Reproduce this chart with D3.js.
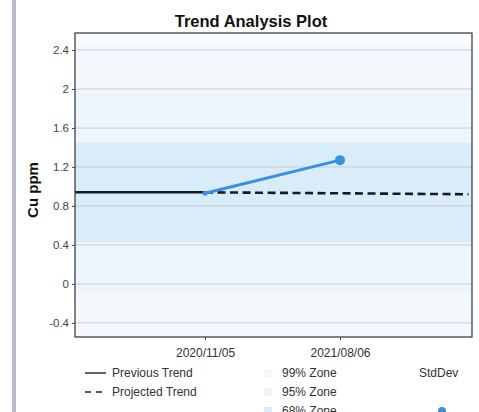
<!DOCTYPE html>
<html><head><meta charset="utf-8">
<script src="https://cdn.jsdelivr.net/npm/d3@7"></script>
<style>html,body{margin:0;padding:0;background:#fff;}svg{display:block;font-family:"Liberation Sans",Arial,sans-serif;}</style>
</head><body><svg id="c" width="479" height="412"></svg>
<script>
const sampleDates = ["2020-11-05", "2021-08-06"];
const sampleValues = [0.93, 1.27];
const previousDates = ["2020-02-15", "2020-11-05"];
const previousValues = [0.94, 0.94];
const projectedDates = ["2020-11-05", "2022-04-24"];
const projectedValues = [0.94, 0.92];
const zoneMean = 0.94;
const zoneNames = ["99% Zone", "95% Zone", "68% Zone"];
const zoneHalfWidths = [1.53, 1.02, 0.51];
const yTicks = [-0.4, 0, 0.4, 0.8, 1.2, 1.6, 2, 2.4];
const xDomain = ["2020-02-15", "2022-05-01"];
const yDomain = [-0.545, 2.575];

const parse = d3.timeParse("%Y-%m-%d");
const fmt = d3.timeFormat("%Y/%m/%d");
const svg = d3.select("#c");
const m = {l: 75, t: 33, r: 472, b: 337};

svg.append("rect").attr("x", 12).attr("y", 0).attr("width", 4).attr("height", 412).attr("fill", "#b9bdc7");

const x = d3.scaleTime().domain(xDomain.map(parse)).range([m.l, m.r]);
const y = d3.scaleLinear().domain(yDomain).range([m.b, m.t]);

svg.append("defs").append("clipPath").attr("id", "clip")
  .append("rect").attr("x", m.l).attr("y", m.t).attr("width", m.r - m.l).attr("height", m.b - m.t);

const plot = svg.append("g").attr("clip-path", "url(#clip)");
plot.append("rect").attr("x", m.l).attr("y", m.t).attr("width", m.r - m.l).attr("height", m.b - m.t).attr("fill", "#f9fbfe");
const zoneColors = ["#f3f8fd", "#edf5fd", "#d9ecfa"];
zoneHalfWidths.forEach((hw, i) => {
  plot.append("rect").attr("x", m.l).attr("width", m.r - m.l)
    .attr("y", y(zoneMean + hw)).attr("height", y(zoneMean - hw) - y(zoneMean + hw))
    .attr("fill", zoneColors[i]);
});

plot.selectAll("line.grid").data(yTicks).join("line").attr("class", "grid")
  .attr("x1", m.l).attr("x2", m.r).attr("y1", d => y(d)).attr("y2", d => y(d))
  .attr("stroke", "#c9ccd2").attr("stroke-width", 1);

const line = d3.line().x(d => x(d[0])).y(d => y(d[1]));
const prev = previousDates.map((d, i) => [parse(d), previousValues[i]]);
const proj = projectedDates.map((d, i) => [parse(d), projectedValues[i]]);
const samp = sampleDates.map((d, i) => [parse(d), sampleValues[i]]);

plot.append("path").attr("d", line(prev)).attr("fill", "none").attr("stroke", "#1a1a1a").attr("stroke-width", 2.6);
plot.append("path").attr("d", line(proj)).attr("fill", "none").attr("stroke", "#1a1a1a").attr("stroke-width", 2.6).attr("stroke-dasharray", "8,4.5");
plot.append("path").attr("d", line(samp)).attr("fill", "none").attr("stroke", "#3b8fe3").attr("stroke-width", 3);
plot.selectAll("circle.pt").data(samp).join("circle").attr("class", "pt")
  .attr("cx", d => x(d[0])).attr("cy", d => y(d[1])).attr("r", (d, i) => i === samp.length - 1 ? 5 : 2.5)
  .attr("fill", "#3b8fe3");

svg.append("rect").attr("x", m.l).attr("y", m.t).attr("width", m.r - m.l).attr("height", m.b - m.t)
  .attr("fill", "none").attr("stroke", "#333").attr("stroke-width", 1.2);

const ya = svg.append("g").attr("transform", `translate(${m.l},0)`)
  .call(d3.axisLeft(y).tickValues(yTicks).tickSize(3).tickFormat(d => String(d)));
ya.select(".domain").remove();
ya.selectAll("text").attr("font-size", 11.5).attr("fill", "#444").attr("font-family", "Liberation Sans, Arial, sans-serif");
ya.selectAll("line").attr("stroke", "#444");

const xa = svg.append("g").attr("transform", `translate(0,${m.b})`)
  .call(d3.axisBottom(x).tickValues(sampleDates.map(parse)).tickSize(3).tickFormat(fmt));
xa.select(".domain").remove();
xa.selectAll("text").attr("font-size", 12).attr("fill", "#333").attr("dy", "1.2em").attr("font-family", "Liberation Sans, Arial, sans-serif");
xa.selectAll("line").attr("stroke", "#444");

svg.append("text").attr("x", 251).attr("y", 27).attr("text-anchor", "middle")
  .attr("font-size", 16.5).attr("font-weight", "bold").attr("fill", "#111").text("Trend Analysis Plot");
svg.append("text").attr("transform", "translate(38,190) rotate(-90)").attr("text-anchor", "middle")
  .attr("font-size", 15).attr("font-weight", "bold").attr("fill", "#111").text("Cu ppm");

const lg = svg.append("g").attr("font-size", 12).attr("fill", "#333");
const trendNames = ["Previous Trend", "Projected Trend"];
trendNames.forEach((t, i) => {
  const yy = 373 + i * 19;
  lg.append("line").attr("x1", 85).attr("x2", 106).attr("y1", yy).attr("y2", yy)
    .attr("stroke", "#222").attr("stroke-width", 1.4).attr("stroke-dasharray", i === 1 ? "6,5" : null);
  lg.append("text").attr("x", 112).attr("y", yy + 4).text(t);
});
zoneNames.forEach((t, i) => {
  const yy = 373 + i * 19;
  lg.append("rect").attr("x", 264).attr("y", yy - 4).attr("width", 8).attr("height", 8).attr("fill", zoneColors[i]);
  lg.append("text").attr("x", 282).attr("y", yy + 4).text(t);
});
lg.append("text").attr("x", 419).attr("y", 377).text("StdDev");
lg.append("circle").attr("cx", 442).attr("cy", 411).attr("r", 4).attr("fill", "#3b8fe3");
</script></body></html>
